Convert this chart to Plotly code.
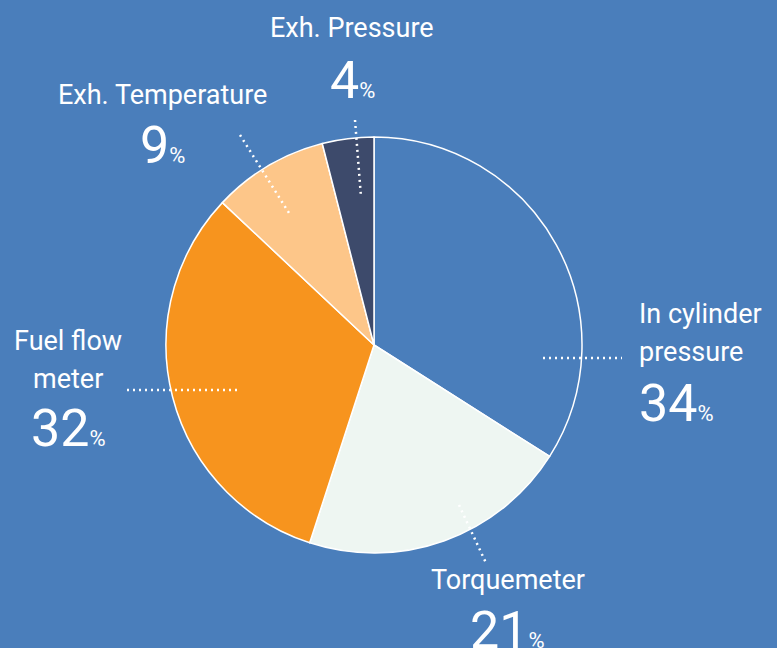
import plotly.graph_objects as go

labels = ["In cylinder pressure", "Torquemeter", "Fuel flow meter", "Exh. Temperature", "Exh. Pressure"]
values = [34, 21, 32, 9, 4]
label_lines = [["In cylinder", "pressure"], ["Torquemeter"], ["Fuel flow", "meter"], ["Exh. Temperature"], ["Exh. Pressure"]]
colors = ["#4A7EBB", "#EEF6F2", "#F7941E", "#FDC689", "#3D4A6B"]

W, H = 777, 648
BG = "#4A7EBB"

def px(x):
    return x / W

def py(y):
    return 1 - y / H

cx, cy, r = 374, 345, 208

fig = go.Figure(go.Pie(
    labels=labels, values=values, sort=False, direction="clockwise", rotation=0,
    marker=dict(colors=colors, line=dict(color="white", width=1.5)),
    textinfo="none", hoverinfo="label+percent", showlegend=False,
    domain=dict(x=[px(cx - r), px(cx + r)], y=[py(cy + r), py(cy - r)]),
))

# label layout: (anchor x, xanchor, first-line y, number y)
label_pos = [
    (637, "left", 314, 403),
    (508, "center", 580, 630),
    (68, "center", 341, 428),
    (162, "center", 95, 145),
    (352, "center", 28, 80),
]
# connector dotted lines (x0, y0, x1, y1)
connectors = [
    (543, 358, 622, 358),
    (459, 505, 486, 563),
    (127, 390, 240, 390),
    (240, 135, 289, 213),
    (355, 120, 361, 197),
]

annotations = []
shapes = []
for lines, v, (ax, xa, ly, ny), (x0, y0, x1, y1) in zip(label_lines, values, label_pos, connectors):
    for i, line in enumerate(lines):
        annotations.append(dict(
            x=px(ax), y=py(ly + i * 38), xref="paper", yref="paper",
            text=line, showarrow=False, xanchor=xa, yanchor="middle",
            font=dict(family="Roboto", size=27, color="white"),
        ))
    annotations.append(dict(
        x=px(ax), y=py(ny), xref="paper", yref="paper",
        text=f"{v}<span style='font-size:22px'>%</span>", showarrow=False,
        xanchor=xa, yanchor="middle",
        font=dict(family="Roboto", size=52, color="white"),
    ))
    shapes.append(dict(
        type="line", xref="paper", yref="paper",
        x0=px(x0), y0=py(y0), x1=px(x1), y1=py(y1),
        line=dict(color="white", width=2.5, dash="2px,4px"),
    ))

fig.update_layout(
    width=W, height=H, margin=dict(l=0, r=0, t=0, b=0),
    paper_bgcolor=BG, plot_bgcolor=BG,
    annotations=annotations, shapes=shapes,
)

fig.write_html(
    "out.html",
    config={"displayModeBar": False},
    post_script="document.body.style.margin='0';document.body.style.overflow='hidden';",
)
